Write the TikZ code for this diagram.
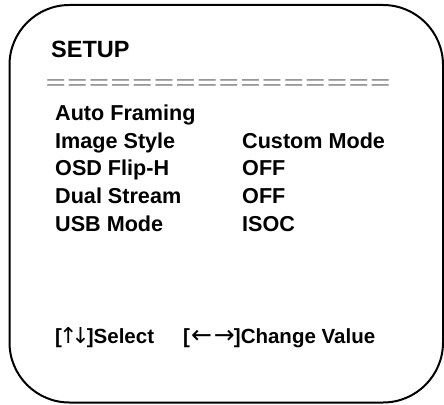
\documentclass[tikz,border=0pt]{standalone}
\usepackage{fontspec}
\setmainfont{Liberation Sans}
\newfontfamily\eqfont{Liberation Sans}[FakeStretch=1.75]
\newfontfamily\arrfont{DejaVu Sans}
\begin{document}
\begin{tikzpicture}[x=1pt,y=-1pt,
  lbl/.style={anchor=base west,inner sep=0pt,font=\fontsize{21.6}{24}\selectfont\bfseries},
  ttl/.style={anchor=base west,inner sep=0pt,font=\fontsize{23.5}{26}\selectfont\bfseries},
  keys/.style={anchor=base west,inner sep=0pt,font=\fontsize{20.5}{24}\selectfont\bfseries},
  eqline/.style={anchor=base west,inner sep=0pt,text=gray,font=\eqfont\fontsize{20}{24}\selectfont},
  frame/.style={draw=black,line width=2pt,rounded corners=60pt}]
\useasboundingbox (0,0) rectangle (444,404);
\draw[frame] (9.5,5) rectangle (443,402.5);
\node[ttl] (title) at (51,57) {SETUP};
\node[eqline] (eq) at (45.4,89.5) {\hbox to 345pt{=\hfil=\hfil=\hfil=\hfil=\hfil=\hfil=\hfil=\hfil=\hfil=\hfil=\hfil=\hfil=\hfil=\hfil=\hfil=}};
\node[lbl] (l1) at (55,120) {Auto Framing};
\node[lbl] (l2) at (55,148) {Image Style};
\node[lbl] (v2) at (242,148) {Custom Mode};
\node[lbl] (l3) at (55,175.5) {OSD Flip-H};
\node[lbl] (v3) at (242,175.5) {OFF};
\node[lbl] (l4) at (55,203) {Dual Stream};
\node[lbl] (v4) at (242,203) {OFF};
\node[lbl] (l5) at (55,231) {USB Mode};
\node[lbl] (v5) at (242,231) {ISOC};
\node[keys] (k1) at (55,343) {[{\arrfont\mdseries\fontsize{22}{24}\selectfont\kern-3pt↑\kern-6pt↓\kern-3pt}]Select};
\node[keys] (k2) at (183,343) {[{\arrfont\mdseries\fontsize{25}{26}\selectfont\kern1pt←\kern2pt→\kern-1pt}]Change Value};
\end{tikzpicture}
\end{document}
